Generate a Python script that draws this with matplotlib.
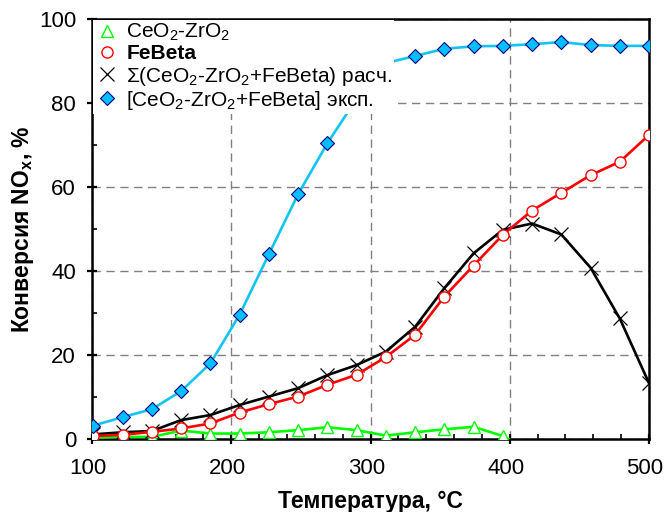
import matplotlib
matplotlib.use("Agg")
import matplotlib.pyplot as plt
import matplotlib.transforms as mtransforms
from matplotlib.ticker import MultipleLocator

plt.rcParams['font.family'] = ['Liberation Sans', 'DejaVu Sans']
plt.rcParams['mathtext.fontset'] = 'custom'
plt.rcParams['mathtext.rm'] = 'Liberation Sans'
plt.rcParams['mathtext.it'] = 'Liberation Sans:italic'
plt.rcParams['mathtext.bf'] = 'Liberation Sans:bold'

# Temperature points, °C
temps = [101, 122, 143, 164, 185, 206, 227, 248, 269, 290,
         311, 332, 353, 374, 395, 416, 437, 458, 479, 500]

# NOx conversion, %
ceo2_zro2 = [0.3, 0.5, 0.5, 2.0, 1.3, 1.3, 1.6, 2.1, 2.8, 2.1,
             0.8, 1.6, 2.3, 2.9, 0.7, -3.1, -9.9, -22.0, -37.3, -59.1]
febeta = [0.7, 1.0, 1.7, 2.5, 3.7, 6.3, 8.3, 10.1, 12.9, 15.3,
          19.5, 24.8, 33.9, 41.3, 48.6, 54.4, 58.6, 62.8, 66.0, 72.4]
sum_calc = [1.1, 1.6, 1.9, 4.5, 5.7, 8.1, 10.1, 12.1, 15.2, 17.6,
            20.8, 26.7, 35.9, 44.2, 49.8, 51.3, 48.7, 40.8, 28.7, 13.3]
mix_exp = [3.2, 5.2, 7.1, 11.4, 18.0, 29.6, 44.0, 58.3, 70.4, 81.0,
           89.5, 91.2, 92.9, 93.5, 93.6, 94.0, 94.5, 93.8, 93.6, 93.6]

fig = plt.figure(figsize=(6.64, 5.12), dpi=100)
ax = fig.add_axes([0.1386, 0.1426, 0.8388, 0.8203])

l_green, = ax.plot(temps, ceo2_zro2, color='#00ff00', lw=1.9, marker='^', ms=8,
                   mfc='white', mec='#00ff00', mew=1.0, zorder=3)
l_black, = ax.plot(temps, sum_calc, color='black', lw=1.9, marker='x', ms=10,
                   mec='black', mew=0.9, zorder=4)
l_red, = ax.plot(temps, febeta, color='#ff0000', lw=1.9, marker='o', ms=8,
                 mfc='white', mec='#ff0000', mew=1.0, zorder=5)
l_blue, = ax.plot(temps, mix_exp, color='#12c4f0', lw=1.9, marker='D', ms=7,
                  mfc='#00bfff', mec='#000080', mew=0.8, zorder=6)

ax.set_xlim(100, 500)
ax.set_ylim(0, 100)
ax.xaxis.set_major_locator(MultipleLocator(100))
ax.xaxis.set_minor_locator(MultipleLocator(20))
ax.yaxis.set_major_locator(MultipleLocator(20))
ax.yaxis.set_minor_locator(MultipleLocator(10))

ax.grid(True, which='major', color='#808080', ls=(0, (6, 4)), lw=1.0)
ax.set_axisbelow(True)

for s in ax.spines.values():
    s.set_linewidth(1.8)
    s.set_color('black')

ax.tick_params(which='major', direction='inout', length=7, width=1.6,
               labelsize=16, pad=8)
ax.tick_params(axis='x', which='major', pad=10)
ax.tick_params(which='minor', direction='in', length=3.5, width=1.2)
ax.tick_params(axis='x', which='both', top=False)
ax.tick_params(axis='y', which='both', right=False)

# x tick labels sit a few pixels left of their ticks in the original
shift = mtransforms.ScaledTranslation(-4 / 100, 0, fig.dpi_scale_trans)
for lbl in ax.get_xticklabels():
    lbl.set_transform(lbl.get_transform() + shift)

ax.set_xlabel('Температура, °C', fontsize=16.5, fontweight='bold', labelpad=8)
ax.set_ylabel(r'Конверсия NO$_\mathbf{x}$, %', fontsize=16.5, fontweight='bold',
              labelpad=2)

leg = ax.legend([l_green, l_red, l_black, l_blue],
                [r'CeO$_\mathrm{2}$-ZrO$_\mathrm{2}$', 'FeBeta',
                 r'Σ(CeO$_\mathrm{2}$-ZrO$_\mathrm{2}$+FeBeta) расч.',
                 r'[CeO$_\mathrm{2}$-ZrO$_\mathrm{2}$+FeBeta] эксп.'],
                loc='upper left', bbox_to_anchor=(0.0, 1.0), fontsize=15,
                frameon=True, facecolor='white', edgecolor='none', framealpha=1,
                fancybox=False, borderpad=0.1, labelspacing=0.05,
                handlelength=1.1, handletextpad=0.4, borderaxespad=0.05)
leg.set_zorder(10)
leg.get_texts()[1].set_fontweight('bold')
for h in leg.legend_handles:
    h.set_linestyle('none')

fig.savefig('out.png', dpi=100)
